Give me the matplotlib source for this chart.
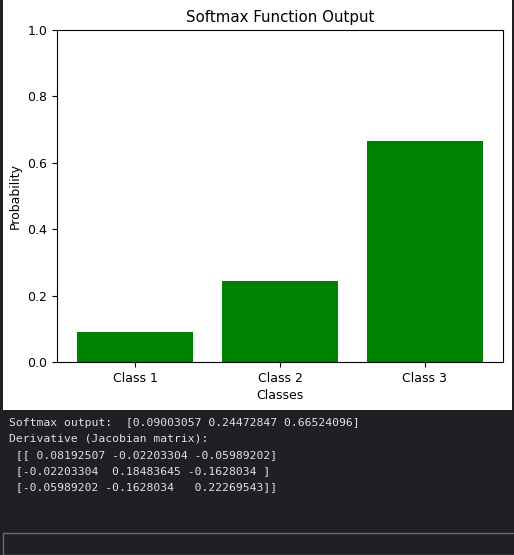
import numpy as np
import matplotlib
matplotlib.use("Agg")
import matplotlib.pyplot as plt
from matplotlib.patches import Rectangle

# values shown in the chart and printed below it
classes = ["Class 1", "Class 2", "Class 3"]
softmax_out = np.array([0.09003057, 0.24472847, 0.66524096])
jacobian = np.array([
    [0.08192507, -0.02203304, -0.05989202],
    [-0.02203304, 0.18483645, -0.1628034],
    [-0.05989202, -0.1628034, 0.22269543],
])

W, H = 514, 555
dark_bg = "#1f2023"

fig = plt.figure(figsize=(W / 100, H / 100), dpi=100, facecolor=dark_bg)

# white cell output area holding the plot (behind the axes)
fig.patches.append(Rectangle((3 / W, (H - 410) / H), 509 / W, 410 / H,
                             transform=fig.transFigure, facecolor="white",
                             edgecolor="none", zorder=-5))

ax = fig.add_axes([57 / W, (H - 362) / H, 446 / W, 332 / H])
ax.bar(classes, softmax_out, color="green")
ax.set_ylim(0, 1)
ax.set_yticks(np.arange(0, 1.01, 0.2))
ax.set_title("Softmax Function Output", fontsize=10.8)
ax.set_xlabel("Classes", fontsize=9, labelpad=3)
ax.set_ylabel("Probability", fontsize=9)
ax.tick_params(labelsize=9)

# console output under the plot
text = ("Softmax output:  " + str(softmax_out) + "\n"
        + "Derivative (Jacobian matrix):\n " + str(jacobian))
for i, line in enumerate(text.split("\n")):
    fig.text(9 / W, 1 - (422.5 + 16.2 * i) / H, line, family="DejaVu Sans Mono",
             fontsize=8.2, color="#e2e2e2", va="center", ha="left")

# empty input box at the bottom
fig.patches.append(Rectangle((3 / W, 0), 520 / W, (H - 538.5) / H + 0.01,
                             transform=fig.transFigure, facecolor="none",
                             edgecolor="#6a6a6a", linewidth=1.0))

fig.savefig("out.png", dpi=100, facecolor=fig.get_facecolor())
